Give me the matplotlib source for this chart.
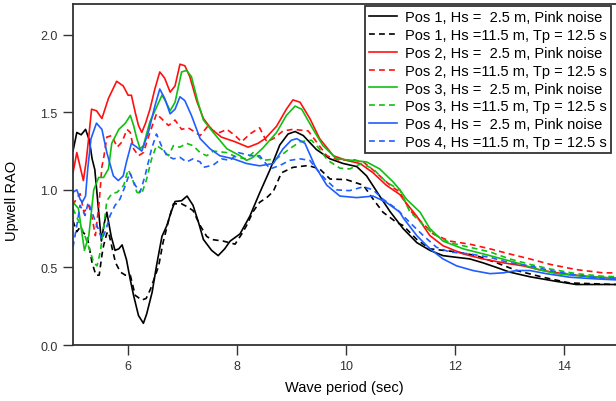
import matplotlib
matplotlib.use("Agg")
import matplotlib.pyplot as plt

plt.rcParams['font.family'] = ['Liberation Sans', 'DejaVu Sans']

# Pos 1
p1_x = [5.00, 5.07, 5.15, 5.23, 5.30, 5.35, 5.40, 5.46, 5.52, 5.57, 5.62, 5.70, 5.77, 5.84, 5.90,
        5.98, 6.05, 6.11, 6.20, 6.29, 6.35, 6.45, 6.53, 6.63, 6.72, 6.80, 6.87, 6.99, 7.09, 7.20,
        7.30, 7.39, 7.54, 7.66, 7.78, 7.88, 8.06, 8.24, 8.42, 8.61, 8.79, 8.94, 9.07, 9.22, 9.46,
        9.71, 9.95, 10.20, 10.38, 10.62, 10.81, 11.05, 11.30, 11.54, 11.78, 12.03, 12.27, 12.51,
        12.76, 13.00, 13.37, 13.86, 14.22, 14.95]
p1_rao = [1.25, 1.37, 1.355, 1.39, 1.32, 1.20, 1.13, 0.90, 0.67, 0.78, 0.856, 0.70, 0.61, 0.62, 0.645,
          0.55, 0.42, 0.32, 0.19, 0.14, 0.20, 0.34, 0.51, 0.70, 0.77, 0.86, 0.925, 0.93, 0.96, 0.90,
          0.79, 0.68, 0.61, 0.576, 0.62, 0.67, 0.716, 0.83, 0.98, 1.13, 1.29, 1.36, 1.376, 1.35, 1.26,
          1.20, 1.17, 1.15, 1.09, 0.96, 0.86, 0.75, 0.66, 0.61, 0.576, 0.565, 0.555, 0.53,
          0.50, 0.47, 0.44, 0.41, 0.39, 0.39]
p1d_x = [5.00, 5.07, 5.13, 5.20, 5.26, 5.35, 5.42, 5.48, 5.53, 5.56, 5.62, 5.65, 5.72, 5.78, 5.87,
         5.96, 6.05, 6.14, 6.26, 6.34, 6.42, 6.50, 6.57, 6.65, 6.75, 6.84, 6.99, 7.10, 7.20, 7.33,
         7.45, 7.54, 7.75, 7.97, 8.10, 8.18, 8.30, 8.42, 8.55, 8.67, 8.82, 9.03, 9.31, 9.52, 9.71,
         10.01, 10.32, 10.50, 10.68, 10.93, 11.05, 11.30, 11.54, 12.03, 12.39, 12.76, 13.13, 13.61,
         14.10, 14.95]
p1d_rao = [0.80, 0.73, 0.76, 0.72, 0.70, 0.53, 0.45, 0.45, 0.58, 0.64, 0.72, 0.73, 0.62, 0.53, 0.47,
           0.45, 0.45, 0.32, 0.29, 0.30, 0.36, 0.44, 0.51, 0.66, 0.80, 0.91, 0.91, 0.89, 0.866, 0.77,
           0.70, 0.68, 0.67, 0.65, 0.72, 0.77, 0.86, 0.92, 0.95, 0.99, 1.11, 1.145, 1.157, 1.135, 1.07,
           1.066, 1.03, 0.94, 0.856, 0.79, 0.77, 0.68, 0.62, 0.60, 0.576, 0.53, 0.48, 0.437,
           0.40, 0.39]

# Pos 2
p2_x = [5.00, 5.07, 5.13, 5.19, 5.24, 5.28, 5.34, 5.43, 5.53, 5.65, 5.80, 5.92, 6.01, 6.07, 6.14,
        6.20, 6.26, 6.33, 6.41, 6.50, 6.59, 6.68, 6.78, 6.87, 6.96, 7.05, 7.14, 7.27, 7.39, 7.54,
        7.72, 7.97, 8.21, 8.39, 8.52, 8.73, 8.91, 9.03, 9.16, 9.34, 9.52, 9.77, 10.01, 10.26, 10.50,
        10.74, 10.99, 11.05, 11.30, 11.54, 11.78, 12.15, 12.51, 12.88, 13.25, 13.61, 13.98, 14.47,
        14.95]
p2_rao = [1.11, 1.24, 1.15, 1.06, 1.18, 1.31, 1.52, 1.51, 1.46, 1.59, 1.70, 1.67, 1.61, 1.61, 1.50,
          1.415, 1.37, 1.43, 1.52, 1.65, 1.76, 1.72, 1.63, 1.67, 1.81, 1.80, 1.73, 1.57, 1.46, 1.39,
          1.34, 1.31, 1.275, 1.30, 1.33, 1.41, 1.52, 1.58, 1.565, 1.46, 1.33, 1.22, 1.19, 1.17, 1.11,
          1.03, 0.97, 0.94, 0.83, 0.705, 0.64, 0.587, 0.555, 0.53, 0.51, 0.48, 0.46, 0.44,
          0.43]
p2d_x = [5.00, 5.07, 5.13, 5.20, 5.29, 5.35, 5.41, 5.48, 5.53, 5.56, 5.62, 5.71, 5.81, 5.90, 5.99,
         6.05, 6.11, 6.20, 6.29, 6.41, 6.53, 6.62, 6.75, 6.87, 6.99, 7.11, 7.20, 7.33, 7.48, 7.57,
         7.69, 7.82, 7.97, 8.09, 8.24, 8.42, 8.55, 8.67, 8.85, 9.03, 9.31, 9.46, 9.65, 9.89, 10.13,
         10.32, 10.56, 10.81, 10.99, 11.17, 11.42, 11.60, 11.90, 12.27, 12.64, 13.00, 13.37, 13.74,
         14.22, 14.71, 14.95]
p2d_rao = [0.90, 0.95, 0.975, 0.856, 0.90, 0.82, 0.705, 0.92, 1.15, 1.20, 1.34, 1.35, 1.275, 1.31, 1.39,
           1.37, 1.265, 1.22, 1.24, 1.37, 1.49, 1.46, 1.415, 1.45, 1.39, 1.40, 1.38, 1.35, 1.415, 1.38,
           1.37, 1.39, 1.35, 1.31, 1.36, 1.40, 1.31, 1.33, 1.38, 1.39, 1.38, 1.31, 1.22, 1.19, 1.195,
           1.18, 1.11, 1.03, 0.985, 0.87, 0.78, 0.716, 0.67, 0.65, 0.62, 0.587, 0.555, 0.52,
           0.486, 0.465, 0.465]

# Pos 3
p3_x = [5.00, 5.10, 5.17, 5.21, 5.29, 5.38, 5.47, 5.56, 5.65, 5.71, 5.84, 5.96, 6.05, 6.11, 6.17,
        6.23, 6.29, 6.41, 6.54, 6.63, 6.70, 6.78, 6.87, 6.99, 7.08, 7.17, 7.29, 7.39, 7.57, 7.82,
        8.06, 8.18, 8.30, 8.48, 8.73, 8.91, 9.07, 9.19, 9.40, 9.58, 9.83, 10.13, 10.38, 10.62,
        10.87, 10.99, 11.11, 11.36, 11.54, 11.78, 12.15, 12.64, 13.13, 13.49, 13.86, 14.22, 14.95]
p3_rao = [0.92, 0.88, 0.705, 0.61, 0.705, 1.0, 1.08, 1.08, 1.135, 1.30, 1.39, 1.43, 1.48, 1.415, 1.33,
          1.265, 1.285, 1.44, 1.54, 1.61, 1.57, 1.51, 1.565, 1.76, 1.77, 1.73, 1.565, 1.45, 1.37, 1.265,
          1.22, 1.19, 1.21, 1.27, 1.37, 1.48, 1.54, 1.52, 1.39, 1.285, 1.20, 1.19, 1.18, 1.135,
          1.05, 1.0, 0.94, 0.856, 0.75, 0.67, 0.62, 0.576, 0.53, 0.49, 0.46, 0.447, 0.43]
p3d_x = [5.00, 5.10, 5.20, 5.30, 5.38, 5.44, 5.50, 5.56, 5.62, 5.71, 5.81, 5.93, 6.01, 6.07, 6.17,
         6.26, 6.35, 6.44, 6.53, 6.62, 6.75, 6.84, 6.96, 7.08, 7.20, 7.33, 7.45, 7.57, 7.82, 8.00,
         8.18, 8.30, 8.48, 8.73, 8.97, 9.16, 9.37, 9.49, 9.67, 9.89, 10.07, 10.29, 10.50, 10.74,
         10.99, 11.17, 11.42, 11.60, 11.90, 12.27, 12.64, 13.00, 13.37, 13.74, 14.22, 14.71, 14.95]
p3d_rao = [0.88, 0.80, 0.72, 0.62, 0.53, 0.51, 0.60, 0.75, 0.93, 0.975, 0.985, 1.03, 1.13, 1.09, 0.985,
           0.975, 1.07, 1.20, 1.285, 1.265, 1.22, 1.285, 1.275, 1.30, 1.285, 1.24, 1.22, 1.25, 1.24, 1.21,
           1.20, 1.24, 1.19, 1.20, 1.265, 1.31, 1.32, 1.275, 1.19, 1.14, 1.135, 1.17, 1.135, 1.05,
           1.0, 0.86, 0.775, 0.716, 0.66, 0.63, 0.60, 0.555, 0.52, 0.49, 0.46, 0.443, 0.44]

# Pos 4
p4_x = [5.00, 5.07, 5.13, 5.17, 5.23, 5.27, 5.33, 5.43, 5.53, 5.62, 5.74, 5.83, 5.92, 5.98, 6.07,
        6.17, 6.26, 6.38, 6.50, 6.59, 6.68, 6.78, 6.87, 6.96, 7.05, 7.17, 7.33, 7.51, 7.69, 7.94,
        8.18, 8.42, 8.67, 8.85, 9.00, 9.10, 9.25, 9.43, 9.65, 9.89, 10.20, 10.50, 10.74, 10.99,
        11.05, 11.30, 11.54, 11.78, 12.03, 12.33, 12.64, 12.88, 13.13, 13.37, 13.67, 14.10, 14.59,
        14.95]
p4_rao = [0.985, 1.0, 0.94, 0.92, 0.96, 1.135, 1.33, 1.43, 1.39, 1.24, 1.09, 1.06, 1.09, 1.18, 1.30,
          1.275, 1.25, 1.37, 1.54, 1.65, 1.59, 1.49, 1.52, 1.60, 1.575, 1.48, 1.33, 1.265, 1.22, 1.20,
          1.17, 1.155, 1.17, 1.265, 1.32, 1.33, 1.30, 1.157, 1.03, 0.96, 0.95, 0.96, 0.92, 0.856,
          0.82, 0.705, 0.62, 0.555, 0.51, 0.48, 0.46, 0.465, 0.48, 0.48, 0.46, 0.437, 0.426,
          0.42]
p4d_x = [5.00, 5.07, 5.13, 5.22, 5.28, 5.37, 5.46, 5.53, 5.60, 5.68, 5.77, 5.86, 5.95, 6.04, 6.14,
         6.23, 6.32, 6.44, 6.53, 6.62, 6.72, 6.84, 6.96, 7.08, 7.20, 7.33, 7.39, 7.57, 7.72, 7.88,
         8.03, 8.27, 8.42, 8.61, 8.79, 8.97, 9.16, 9.34, 9.46, 9.62, 9.83, 10.07, 10.32, 10.50,
         10.68, 10.93, 11.17, 11.42, 11.66, 11.90, 12.27, 12.64, 13.00, 13.37, 13.74, 14.22, 14.71,
         14.95]
p4d_rao = [0.63, 0.77, 0.90, 0.835, 0.92, 0.835, 0.75, 0.68, 0.74, 0.835, 0.90, 0.94, 1.02, 1.11, 1.03,
           0.985, 1.09, 1.265, 1.36, 1.285, 1.22, 1.20, 1.21, 1.18, 1.20, 1.18, 1.145, 1.16, 1.20, 1.19,
           1.24, 1.22, 1.22, 1.135, 1.157, 1.19, 1.20, 1.19, 1.135, 1.07, 1.0, 0.995, 1.02, 1.0,
           0.94, 0.877, 0.79, 0.705, 0.63, 0.60, 0.587, 0.565, 0.53, 0.51, 0.48, 0.45, 0.43,
           0.43]

labels = ["Pos 1, Hs =  2.5 m, Pink noise", "Pos 1, Hs =11.5 m, Tp = 12.5 s",
          "Pos 2, Hs =  2.5 m, Pink noise", "Pos 2, Hs =11.5 m, Tp = 12.5 s",
          "Pos 3, Hs =  2.5 m, Pink noise", "Pos 3, Hs =11.5 m, Tp = 12.5 s",
          "Pos 4, Hs =  2.5 m, Pink noise", "Pos 4, Hs =11.5 m, Tp = 12.5 s"]

series = [(p1_x, p1_rao), (p1d_x, p1d_rao), (p2_x, p2_rao), (p2d_x, p2d_rao),
          (p3_x, p3_rao), (p3d_x, p3d_rao), (p4_x, p4_rao), (p4d_x, p4d_rao)]
colors = ["black", "black", "#ff1010", "#ff1010", "#10c010", "#10c010", "#1f5fff", "#1f5fff"]
dashed = (0, (3.5, 2.5))

fig = plt.figure(figsize=(6.16, 4.02), dpi=100)
ax = fig.add_axes([0.1185, 0.1393, 0.8815, 0.849])

for i, (x, y) in enumerate(series):
    ls = "-" if i % 2 == 0 else dashed
    ax.plot(x, y, color=colors[i], linestyle=ls, linewidth=1.2, label=labels[i])

ax.set_xlim(5, 14.95)
ax.set_ylim(0, 2.2)
ax.set_xticks([6, 8, 10, 12, 14])
ax.set_yticks([0.0, 0.5, 1.0, 1.5, 2.0])
ax.set_yticklabels(["0.0", "0.5", "1.0", "1.5", "2.0"])
ax.tick_params(direction="out", length=7, width=1, labelsize=9, colors="#333333")
ax.tick_params(axis="y", pad=4)
ax.spines["right"].set_visible(False)
for s in ["left", "bottom", "top"]:
    ax.spines[s].set_linewidth(1.3)
    ax.spines[s].set_color("#333333")

ax.set_xlabel("Wave period (sec)", fontsize=10.5, labelpad=6)
ax.set_ylabel("Upwell RAO", fontsize=10.5)
ax.yaxis.set_label_coords(19 / 616, 0.5, transform=fig.transFigure)

leg = ax.legend(loc="upper right", bbox_to_anchor=(611 / 616, 1 - 7 / 402),
                bbox_transform=fig.transFigure, borderaxespad=0, fontsize=10.5,
                labelspacing=0.26, handlelength=1.9, handletextpad=0.55,
                borderpad=0.3, fancybox=False, framealpha=1)
leg.get_frame().set_edgecolor("#333333")
leg.get_frame().set_linewidth(1.3)

fig.savefig("out.png", dpi=100)
